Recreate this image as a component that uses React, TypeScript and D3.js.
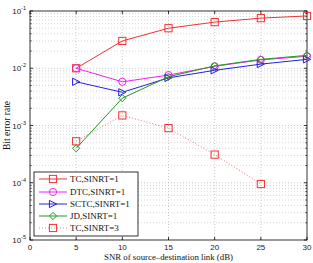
import React from "react";
import * as d3 from "d3";

const snr = [5, 10, 15, 20, 25, 30];
const tc1 = [0.0100, 0.030, 0.050, 0.064, 0.075, 0.082];
const dtc1 = [0.0100, 0.0058, 0.0076, 0.0108, 0.0140, 0.0162];
const sctc1 = [0.0058, 0.0038, 0.0068, 0.0092, 0.0118, 0.0143];
const jd1 = [0.00040, 0.0030, 0.0071, 0.0110, 0.0143, 0.0168];
const snr3 = [5, 10, 15, 20, 25];
const tc3 = [0.00053, 0.0015, 0.00090, 0.00031, 0.000095];
const xTicks = [0, 5, 10, 15, 20, 25, 30];
const yExps = [-5, -4, -3, -2, -1];
const legendLabels = ["TC,SINRT=1", "DTC,SINRT=1", "SCTC,SINRT=1", "JD,SINRT=1", "TC,SINRT=3"];

const W = 313, H = 263;
const L = 30, R = 307, T = 11, B = 240;

type Marker = "square" | "circle" | "tri" | "diamond";

function MarkerShape({ kind, x, y, color }: { kind: Marker; x: number; y: number; color: string }) {
  const s = 3.6;
  if (kind === "square") return <rect x={x - s} y={y - s} width={2 * s} height={2 * s} fill="none" stroke={color} strokeWidth={1} />;
  if (kind === "circle") return <circle cx={x} cy={y} r={s} fill="none" stroke={color} strokeWidth={1} />;
  if (kind === "tri") return <path d={`M${x + s},${y} L${x - s},${y - s} L${x - s},${y + s} Z`} fill="none" stroke={color} strokeWidth={1} />;
  return <path d={`M${x},${y - s} L${x + s},${y} L${x},${y + s} L${x - s},${y} Z`} fill="none" stroke={color} strokeWidth={1} />;
}

export default function App() {
  const x = d3.scaleLinear().domain([0, 30]).range([L, R]);
  const y = d3.scaleLog().domain([1e-5, 1e-1]).range([B, T]);
  const line = d3.line<[number, number]>().x(d => x(d[0])).y(d => y(d[1]));

  const minor: number[] = [];
  for (let e = -5; e < -1; e++) for (let m = 2; m <= 9; m++) minor.push(m * Math.pow(10, e));

  const series = [
    { xs: snr, ys: tc1, color: "#ee3333", marker: "square" as Marker, dash: "" },
    { xs: snr, ys: dtc1, color: "#ee22ee", marker: "circle" as Marker, dash: "" },
    { xs: snr, ys: sctc1, color: "#2222dd", marker: "tri" as Marker, dash: "" },
    { xs: snr, ys: jd1, color: "#229922", marker: "diamond" as Marker, dash: "" },
    { xs: snr3, ys: tc3, color: "#ee3333", marker: "square" as Marker, dash: "1,2" },
  ];

  const legendY = [179, 192, 204, 216, 228];

  return (
    <svg width={W} height={H} style={{ position: "absolute", left: 0, top: 0 }}>
      <rect x={0} y={0} width={W} height={H} fill="#fff" />
      {/* grid */}
      {xTicks.slice(1, -1).map(t => (
        <line key={"gx" + t} x1={x(t)} x2={x(t)} y1={T} y2={B} stroke="#aaa" strokeWidth={0.6} strokeDasharray="1,2" />
      ))}
      {yExps.slice(1, -1).map(e => (
        <line key={"gy" + e} x1={L} x2={R} y1={y(Math.pow(10, e))} y2={y(Math.pow(10, e))} stroke="#aaa" strokeWidth={0.6} strokeDasharray="1,2" />
      ))}
      {minor.map((v, i) => (
        <line key={"gm" + i} x1={L} x2={R} y1={y(v)} y2={y(v)} stroke="#bbb" strokeWidth={0.6} strokeDasharray="1,2" />
      ))}
      {/* frame */}
      <rect x={L} y={T} width={R - L} height={B - T} fill="none" stroke="#000" strokeWidth={0.8} />
      {xTicks.map(t => (
        <g key={"tx" + t}>
          <line x1={x(t)} x2={x(t)} y1={B} y2={B - 3} stroke="#000" strokeWidth={0.8} />
          <line x1={x(t)} x2={x(t)} y1={T} y2={T + 3} stroke="#000" strokeWidth={0.8} />
          <text x={x(t)} y={250} textAnchor="middle" fontFamily="Liberation Sans, Arial, sans-serif" fontSize={8} fill="#222">{t}</text>
        </g>
      ))}
      {yExps.map(e => (
        <g key={"ty" + e}>
          <line x1={L} x2={L + 3} y1={y(Math.pow(10, e))} y2={y(Math.pow(10, e))} stroke="#000" strokeWidth={0.8} />
          <line x1={R} x2={R - 3} y1={y(Math.pow(10, e))} y2={y(Math.pow(10, e))} stroke="#000" strokeWidth={0.8} />
          <text x={L - 4} y={y(Math.pow(10, e)) + 3} textAnchor="end" fontFamily="Liberation Sans, Arial, sans-serif" fontSize={8} fill="#222">
            10<tspan dy={-4} fontSize={5.5}>{e}</tspan>
          </text>
        </g>
      ))}
      {minor.map((v, i) => (
        <g key={"mt" + i}>
          <line x1={L} x2={L + 1.8} y1={y(v)} y2={y(v)} stroke="#000" strokeWidth={0.6} />
          <line x1={R} x2={R - 1.8} y1={y(v)} y2={y(v)} stroke="#000" strokeWidth={0.6} />
        </g>
      ))}
      {/* series */}
      {series.map((s, i) => {
        const pts = s.xs.map((v, j) => [v, s.ys[j]] as [number, number]);
        return (
          <g key={"s" + i}>
            <path d={line(pts) || ""} fill="none" stroke={s.color} strokeWidth={1} strokeDasharray={s.dash || undefined} opacity={s.dash ? 0.7 : 1} />
            {pts.map((p, j) => (
              <MarkerShape key={j} kind={s.marker} x={x(p[0])} y={y(p[1])} color={s.color} />
            ))}
          </g>
        );
      })}
      {/* legend */}
      <rect x={34} y={172} width={104} height={64} fill="#fff" stroke="#000" strokeWidth={0.8} />
      {series.map((s, i) => (
        <g key={"lg" + i}>
          <line x1={39} x2={67} y1={legendY[i]} y2={legendY[i]} stroke={s.color} strokeWidth={1} strokeDasharray={s.dash || undefined} opacity={s.dash ? 0.6 : 1} />
          <MarkerShape kind={s.marker} x={53} y={legendY[i]} color={s.color} />
          <text x={70} y={legendY[i] + 3} fontFamily="Liberation Serif, Times New Roman, serif" fontSize={9} fill="#111">{legendLabels[i]}</text>
        </g>
      ))}
      {/* axis labels */}
      <text x={(L + R) / 2} y={260} textAnchor="middle" fontFamily="Liberation Serif, Times New Roman, serif" fontSize={8.8} fill="#111">SNR of source–destination link (dB)</text>
      <text transform={`translate(10,${(T + B) / 2}) rotate(-90)`} textAnchor="middle" fontFamily="Liberation Serif, Times New Roman, serif" fontSize={9.5} fill="#111">Bit error rate</text>
    </svg>
  );
}
